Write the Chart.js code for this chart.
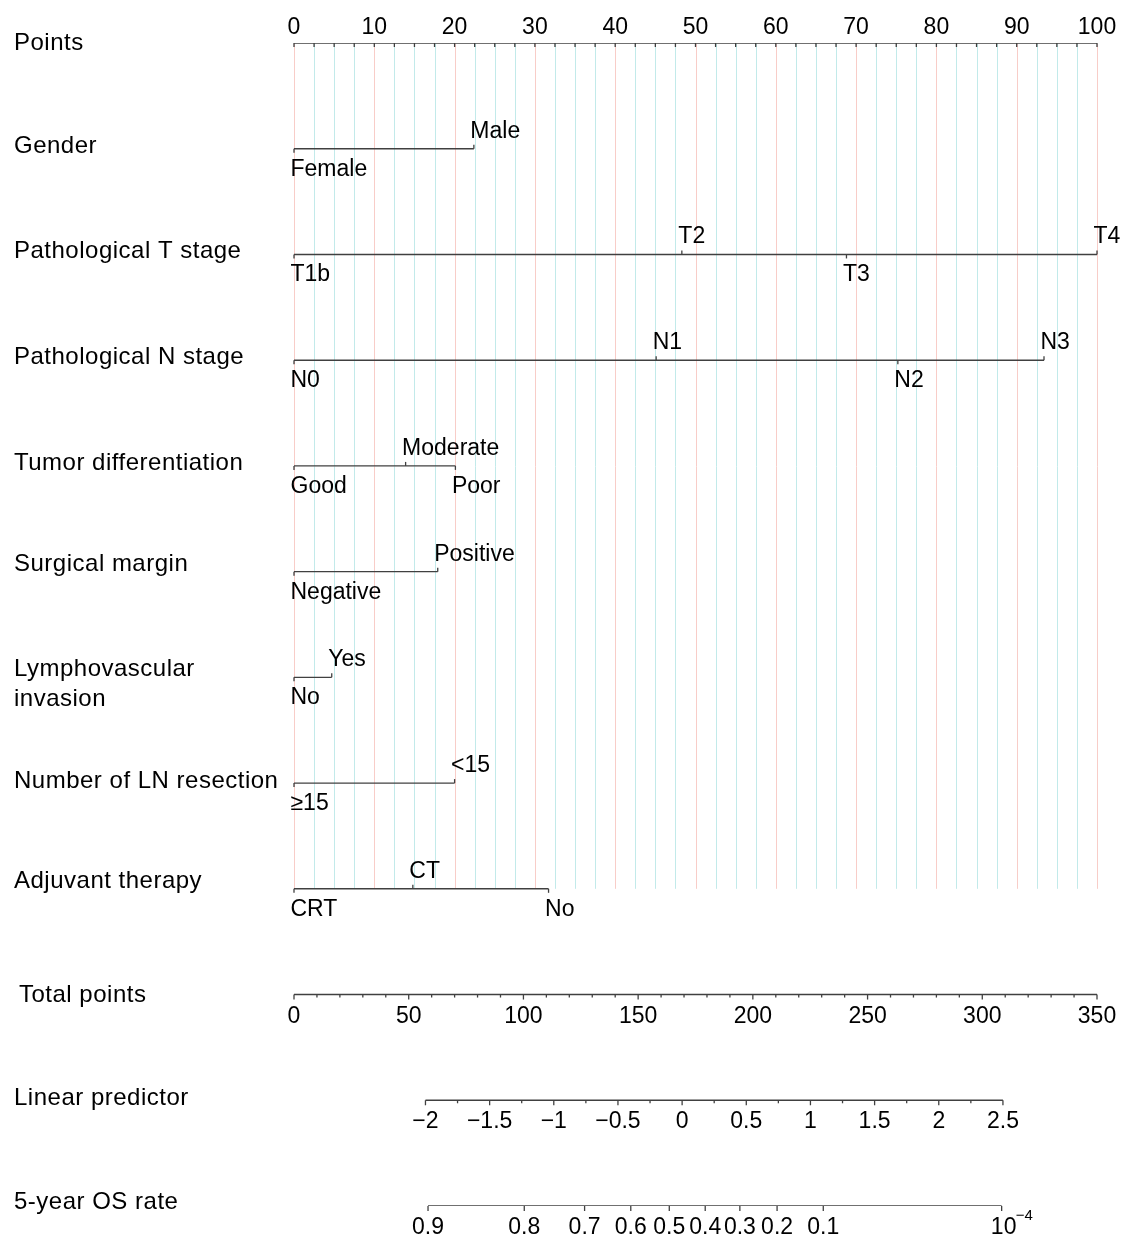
<!DOCTYPE html>
<html>
<head>
<meta charset="utf-8">
<title>Nomogram – 5-year overall survival</title>
<script src="https://cdn.jsdelivr.net/npm/chart.js@4/dist/chart.umd.min.js"></script>
<style>
  html, body { margin: 0; padding: 0; background: #ffffff; }
  #wrap { position: relative; width: 1123px; height: 1236px; }
</style>
</head>
<body>
<div id="wrap"><canvas id="nomo"></canvas></div>
<script>
// ---- Rows of the nomogram (top to bottom) ----
const rowNames = [
  'Points', 'Gender', 'Pathological T stage', 'Pathological N stage',
  'Tumor differentiation', 'Surgical margin', ['Lymphovascular', 'invasion'],
  'Number of LN resection', 'Adjuvant therapy', 'Total points',
  'Linear predictor', '5-year OS rate'
];

// ---- Points scale ----
const pointsMax = 100;
const pointsLabels = [0, 10, 20, 30, 40, 50, 60, 70, 80, 90, 100];
const pointsMinorStep = 2.5;

// ---- Predictor levels and their points ----
const genderLevels = ['Female', 'Male'];
const genderPoints = [0, 22.4];

const tStageLevels = ['T1b', 'T2', 'T3', 'T4'];
const tStagePoints = [0, 48.3, 68.8, 100];

const nStageLevels = ['N0', 'N1', 'N2', 'N3'];
const nStagePoints = [0, 45.1, 75.2, 93.4];

const diffLevels = ['Good', 'Moderate', 'Poor'];
const diffPoints = [0, 13.9, 20.1];

const marginLevels = ['Negative', 'Positive'];
const marginPoints = [0, 17.9];

const lviLevels = ['No', 'Yes'];
const lviPoints = [0, 4.7];

const lnLevels = ['≥15', '<15'];
const lnPoints = [0, 20.0];

const adjuvantLevels = ['CRT', 'CT', 'No'];
const adjuvantPoints = [0, 14.8, 31.7];

// ---- Total points scale ----
const totalMax = 350;
const totalLabels = [0, 50, 100, 150, 200, 250, 300, 350];

// ---- Linear predictor scale (value ↔ total points anchors) ----
const lpLabels = [-2, -1.5, -1, -0.5, 0, 0.5, 1, 1.5, 2, 2.5];
const lpAnchorValues = [-2, 2.5];
const lpAnchorTotals = [57.3, 309.0];

// ---- 5-year OS rate scale (label ↔ linear predictor) ----
const osLabels = ['0.9', '0.8', '0.7', '0.6', '0.5', '0.4', '0.3', '0.2', '0.1', '10^-4'];
const osLinearPredictor = [-1.98, -1.23, -0.76, -0.40, -0.10, 0.18, 0.45, 0.74, 1.10, 2.49];

// ---- Conversions onto the points scale ----
const totalToPoints = t => t * pointsMax / totalMax;
const lpToPoints = lp => totalToPoints(
  lpAnchorTotals[0] + (lp - lpAnchorValues[0]) *
  (lpAnchorTotals[1] - lpAnchorTotals[0]) / (lpAnchorValues[1] - lpAnchorValues[0])
);

// Predictor rows; side says whether each level label sits above (1) or below (-1) the line
const predictors = [
  { row: 1, levels: genderLevels,   pts: genderPoints,   side: [-1, 1] },
  { row: 2, levels: tStageLevels,   pts: tStagePoints,   side: [-1, 1, -1, 1] },
  { row: 3, levels: nStageLevels,   pts: nStagePoints,   side: [-1, 1, -1, 1] },
  { row: 4, levels: diffLevels,     pts: diffPoints,     side: [-1, 1, -1] },
  { row: 5, levels: marginLevels,   pts: marginPoints,   side: [-1, 1] },
  { row: 6, levels: lviLevels,      pts: lviPoints,      side: [-1, 1] },
  { row: 7, levels: lnLevels,       pts: lnPoints,       side: [-1, 1] },
  { row: 8, levels: adjuvantLevels, pts: adjuvantPoints, side: [-1, 1, -1] }
];

// ---- Styling ----
const FONT = '"Liberation Sans", Arial, Helvetica, sans-serif';
const LINE_COLOR = '#404040';
const TEXT_COLOR = '#000000';
const GRID_MAJOR = '#f8cdc8';
const GRID_MINOR = '#c2eaea';
const rowLabelDy = [0, -2, -3, -3, -3, -7, 7, -2, -7, 1, -2, -4];

// Line segments for every row, drawn as datasets on the points scale
function segment(x0, x1, row) {
  return {
    data: [{ x: x0, y: row }, { x: x1, y: row }],
    showLine: true,
    borderColor: LINE_COLOR,
    borderWidth: 1.4,
    pointRadius: 0,
    pointHoverRadius: 0,
    tension: 0
  };
}

const datasets = [segment(0, pointsMax, 0)];
predictors.forEach(p => datasets.push(segment(Math.min(...p.pts), Math.max(...p.pts), p.row)));
datasets.push(segment(totalToPoints(totalLabels[0]), totalToPoints(totalLabels[totalLabels.length - 1]), 9));
datasets.push(segment(lpToPoints(lpLabels[0]), lpToPoints(lpLabels[lpLabels.length - 1]), 10));
datasets.push(segment(lpToPoints(osLinearPredictor[0]), lpToPoints(osLinearPredictor[osLinearPredictor.length - 1]), 11));

function tick(ctx, x, y, len) {
  ctx.beginPath();
  ctx.moveTo(x, y);
  ctx.lineTo(x, y + len);
  ctx.stroke();
}

const nomogramPlugin = {
  id: 'nomogramDecor',
  beforeDatasetsDraw(chart) {
    const ctx = chart.ctx, xs = chart.scales.x, ys = chart.scales.y;
    const yTop = ys.getPixelForValue(0) + 1;
    const yBottom = ys.getPixelForValue(8);
    ctx.save();
    ctx.lineWidth = 1;
    for (let v = 0; v <= pointsMax + 1e-9; v += pointsMinorStep) {
      const x = Math.round(xs.getPixelForValue(v)) + 0.5;
      ctx.strokeStyle = (Math.abs(v % 10) < 1e-9) ? GRID_MAJOR : GRID_MINOR;
      ctx.beginPath();
      ctx.moveTo(x, yTop);
      ctx.lineTo(x, yBottom);
      ctx.stroke();
    }
    ctx.restore();
  },
  afterDatasetsDraw(chart) {
    const ctx = chart.ctx, xs = chart.scales.x, ys = chart.scales.y;
    ctx.save();
    ctx.strokeStyle = LINE_COLOR;
    ctx.lineWidth = 1.3;
    ctx.fillStyle = TEXT_COLOR;

    // Row titles
    ctx.font = '24px ' + FONT;
    if ('letterSpacing' in ctx) ctx.letterSpacing = '0.5px';
    ctx.textAlign = 'left';
    ctx.textBaseline = 'middle';
    rowNames.forEach((name, i) => {
      const y = ys.getPixelForValue(i) + rowLabelDy[i];
      const x = (i === 9) ? 19 : 14;
      if (Array.isArray(name)) {
        ctx.fillText(name[0], x, y - 15);
        ctx.fillText(name[1], x, y + 15);
      } else {
        ctx.fillText(name, x, y);
      }
    });
    if ('letterSpacing' in ctx) ctx.letterSpacing = '0px';

    // Points axis: ticks every 2.5, labels every 10 above
    const y0 = ys.getPixelForValue(0);
    for (let v = 0; v <= pointsMax + 1e-9; v += pointsMinorStep) {
      tick(ctx, xs.getPixelForValue(v), y0, 4);
    }
    ctx.font = '23px ' + FONT;
    ctx.textAlign = 'center';
    ctx.textBaseline = 'alphabetic';
    pointsLabels.forEach(v => ctx.fillText(String(v), xs.getPixelForValue(v), y0 - 9));

    // Predictor rows: level ticks and labels
    ctx.textAlign = 'left';
    predictors.forEach(p => {
      const y = ys.getPixelForValue(p.row);
      p.levels.forEach((lab, k) => {
        const x = xs.getPixelForValue(p.pts[k]);
        tick(ctx, x, y, p.side[k] > 0 ? -4 : 4);
        ctx.fillText(lab, x - 3.5, p.side[k] > 0 ? y - 11 : y + 27);
      });
    });

    // Total points axis
    const yT = ys.getPixelForValue(9);
    for (let t = 0; t <= totalMax + 1e-9; t += 10) {
      tick(ctx, xs.getPixelForValue(totalToPoints(t)), yT, (t % 50 === 0) ? 5 : 3);
    }
    ctx.textAlign = 'center';
    totalLabels.forEach(t => ctx.fillText(String(t), xs.getPixelForValue(totalToPoints(t)), yT + 28));

    // Linear predictor axis
    const yL = ys.getPixelForValue(10);
    for (let q = lpLabels[0]; q <= lpLabels[lpLabels.length - 1] + 1e-9; q += 0.25) {
      const major = Math.abs(q * 2 - Math.round(q * 2)) < 1e-9;
      tick(ctx, xs.getPixelForValue(lpToPoints(q)), yL, major ? 5 : 3);
    }
    lpLabels.forEach(q => {
      const txt = q < 0 ? '\u2212' + String(-q) : String(q);
      ctx.fillText(txt, xs.getPixelForValue(lpToPoints(q)), yL + 28);
    });

    // 5-year OS rate axis
    const yO = ys.getPixelForValue(11);
    osLabels.forEach((lab, k) => {
      const x = xs.getPixelForValue(lpToPoints(osLinearPredictor[k]));
      tick(ctx, x, yO, 5);
      if (lab.indexOf('^') >= 0) {
        const parts = lab.split('^');
        ctx.textAlign = 'center';
        ctx.font = '23px ' + FONT;
        ctx.fillText(parts[0], x + 2, yO + 28);
        ctx.textAlign = 'left';
        ctx.font = '15px ' + FONT;
        const sup = parts[1].replace('-', '\u2212');
        ctx.fillText(sup, x + 14, yO + 14);
        ctx.font = '23px ' + FONT;
        ctx.textAlign = 'center';
      } else {
        ctx.fillText(lab, x, yO + 28);
      }
    });

    ctx.restore();
  }
};

new Chart(document.getElementById('nomo'), {
  type: 'scatter',
  data: { datasets },
  options: {
    responsive: true,
    maintainAspectRatio: false,
    animation: false,
    events: [],
    layout: { padding: { left: 294, right: 26, top: 43, bottom: 30 } },
    scales: {
      x: { type: 'linear', min: 0, max: pointsMax, display: false },
      y: { type: 'linear', min: 0, max: 11, reverse: true, display: false }
    },
    plugins: { legend: { display: false }, tooltip: { enabled: false } }
  },
  plugins: [nomogramPlugin]
});
</script>
</body>
</html>
